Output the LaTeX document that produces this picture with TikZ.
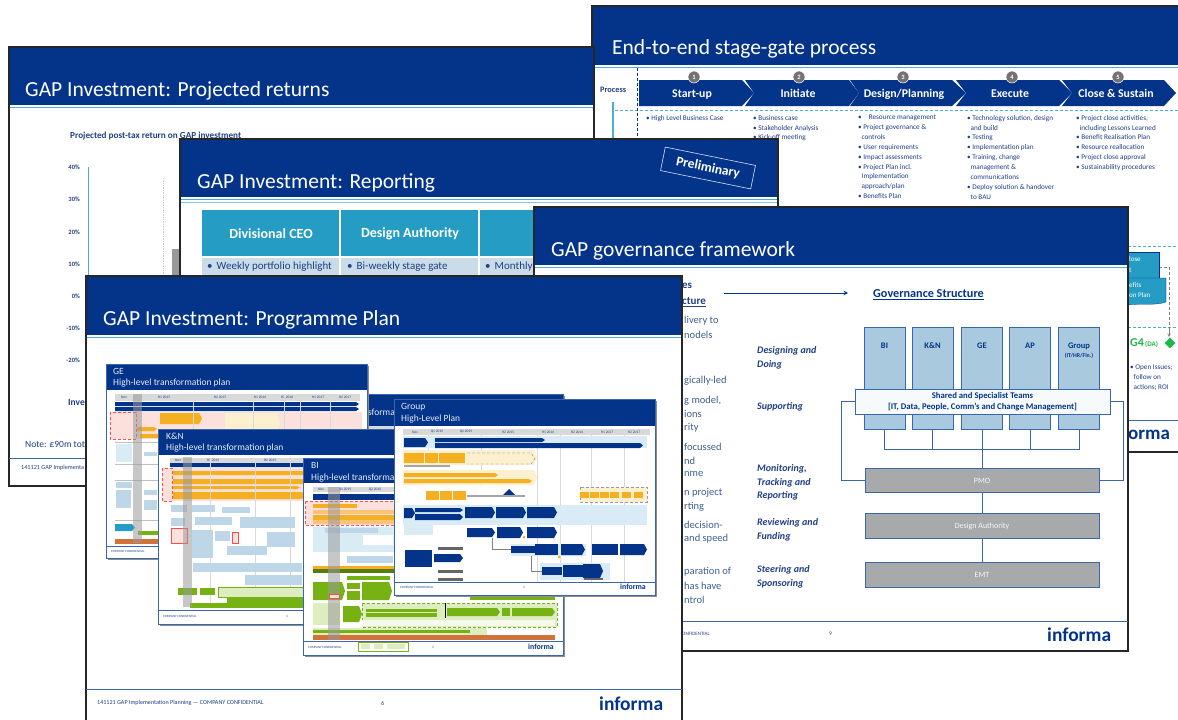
\documentclass[tikz,border=0pt]{standalone}
\usepackage{fontspec}
\setmainfont{Carlito}
\usetikzlibrary{calc,shapes.geometric}
\definecolor{navy}{HTML}{03348A}
\definecolor{sky}{HTML}{4AAFD2}
\definecolor{teal1}{HTML}{259CC4}
\definecolor{bodyb}{HTML}{1F3F86}
\definecolor{slate}{HTML}{3F5F92}
\definecolor{rowb}{HTML}{C9DCE8}
\definecolor{govb}{HTML}{A9C9DE}
\definecolor{govl}{HTML}{3A66AE}
\definecolor{gr}{HTML}{A8A9AB}
\definecolor{gold}{HTML}{F5B021}
\definecolor{pale}{HTML}{FDF0CF}
\definecolor{pink}{HTML}{FBE0DC}
\definecolor{lb}{HTML}{BDD7E8}
\definecolor{vlb}{HTML}{D9ECF6}
\definecolor{grn}{HTML}{76B214}
\definecolor{lgrn}{HTML}{DDEDBF}
\definecolor{rust}{HTML}{D2713A}
\definecolor{org}{HTML}{F9C37C}
\definecolor{gatec}{HTML}{1FB84A}
\newcounter{tn}
% text: options, x, y, font size, text
\newcommand{\lbl}[5][]{\stepcounter{tn}\node[inner sep=0pt,anchor=west,#1] (t\arabic{tn}) at (#2,#3) {\fontsize{#4}{#4}\selectfont #5};}
\newcommand{\rb}[5]{\fill[#5] (#1,#2) rectangle (#3,#4);}
\newcommand{\chev}[5]{\fill[#5] (#1,#2) -- ({#3-3},#2) -- (#3,{(#2+#4)/2}) -- ({#3-3},#4) -- (#1,#4) -- cycle;}
% big slide: x0 y0 x1 y1 headerbottom titlex titley title
\newcommand{\bigslide}[8]{%
  \fill[white] (#1,#2) rectangle (#3,#4);
  \fill[navy] (#1,#2) rectangle (#3,#5);
  \draw[sky,line width=1.2pt] (#1,{#5+2.6}) -- (#3,{#5+2.6});
  \lbl[text=white]{#6}{#7}{21.5}{#8}
  \draw[black!85,line width=2pt] (#1,#2) rectangle (#3,#4);
}
% mini slide frame: x0 y0 x1 y1 hb
\newcommand{\mini}[5]{%
  \fill[black!45] ({#1+1.5},{#2+2}) rectangle ({#3+1.5},{#4+2});
  \fill[white] (#1,#2) rectangle (#3,#4);
  \fill[navy] (#1,#2) rectangle (#3,#5);
  \draw[govl,line width=.7pt] (#1,#2) rectangle (#3,#4);
}
\newcommand{\minihead}[3]{\lbl[text=white!90!navy]{#1}{#2}{9.5}{#3}}
\tikzset{
  stagearrow/.style={fill=navy},
  stepnum/.style={circle,fill=black!55,draw=white,line width=.5pt,text=white,inner sep=0pt,minimum size=12pt,font=\fontsize{6.5}{7}\selectfont\bfseries},
  stagetext/.style={anchor=base,text=white,font=\bfseries},
  bullets/.style={anchor=north west,inner sep=0pt,align=left,text=bodyb,font=\fontsize{7.2}{9.85}\selectfont},
  govbox/.style={draw=govl,fill=govb,line width=1pt,minimum width=41pt,minimum height=102pt,inner sep=0pt},
  govbar/.style={draw=govl,fill=gr,line width=1pt,minimum width=234pt,minimum height=24.5pt,inner sep=0pt,text=white!92!gr,font=\fontsize{8}{9}\selectfont},
  govlink/.style={draw=govl,line width=1pt},
  headcell/.style={fill=teal1},
  role/.style={text=bodyb,font=\fontsize{10}{13.4}\selectfont\bfseries\itshape,align=left,anchor=north west,inner sep=0pt},
}
\begin{document}
\begin{tikzpicture}[x=1pt,y=-1pt]
\useasboundingbox (0,0) rectangle (1178,720);
\clip (0,0) rectangle (1178,720);
\fill[white] (0,0) rectangle (1178,720);

%%%%% Slide B: stage-gate
\bigslide{592}{6}{1182}{452}{65}{612}{49}{End-to-end stage-gate process}
\draw[sky,line width=.9pt,densely dashed] (615,110) -- (1178,110);
\draw[navy,line width=.7pt,densely dashed] (637,68) -- (637,140);
\draw[sky,line width=1.2pt] (613,102) -- (613,140);
\lbl[text=bodyb,font=\bfseries]{600}{90}{8.3}{Process}
\fill[stagearrow] (639,80) -- (742,80) -- (754,93) -- (742,106) -- (639,106) -- cycle;
\fill[stagearrow] (745,80) -- (849,80) -- (859,93) -- (849,106) -- (745,106) -- (754,93) -- cycle;
\fill[stagearrow] (850,80) -- (952,80) -- (966,93) -- (952,106) -- (850,106) -- (859,93) -- cycle;
\fill[stagearrow] (956,80) -- (1059,80) -- (1072,93) -- (1059,106) -- (956,106) -- (966,93) -- cycle;
\fill[stagearrow] (1062,80) -- (1164,80) -- (1176,93) -- (1164,106) -- (1062,106) -- (1072,93) -- cycle;
\node[stepnum] (n1) at (694,77) {1};
\node[stepnum] (n2) at (799,77) {2};
\node[stepnum] (n3) at (903,77) {3};
\node[stepnum] (n4) at (1012,77) {4};
\node[stepnum] (n5) at (1118,77) {5};
\lbl[stagetext]{692}{97}{11.8}{Start-up}
\lbl[stagetext]{798}{97}{11.8}{Initiate}
\lbl[stagetext]{904}{97}{11.8}{Design/Planning}
\lbl[stagetext]{1010}{97}{11.8}{Execute}
\lbl[stagetext]{1116}{97}{11.8}{Close \& Sustain}
\node[bullets] (c1) at (646,115) {• High Level  Business Case};
\node[bullets] (c2) at (753,115) {• Business case\\• Stakeholder  Analysis\\• Kick-off meeting};
\node[bullets] (c3) at (858,115) {•\hspace{7pt}Resource management\\• Project governance \&\\\hspace{3.5pt}controls\\• User requirements\\• Impact assessments\\• Project Plan incl.\\\hspace{3.5pt}Implementation\\\hspace{3.5pt}approach/plan\\• Benefits Plan};
\node[bullets] (c4) at (967,115) {• Technology solution, design\\\hspace{3.5pt}and build\\• Testing\\• Implementation  plan\\• Training,  change\\\hspace{3.5pt}management  \&\\\hspace{3.5pt}communications\\• Deploy solution \& handover\\\hspace{3.5pt}to BAU};
\node[bullets] (c5) at (1076,115) {• Project close activities,\\\hspace{3.5pt}including Lessons Learned\\• Benefit Realisation  Plan\\• Resource reallocation\\• Project close approval\\• Sustainability procedures};
% lower-right part of slide B
\draw[sky,line width=.8pt,densely dashed] (1128,246) -- (1178,246);
\draw[sky,line width=.8pt,densely dashed] (1128,327) -- (1178,327);
\draw[black!50,densely dashed,line width=.6pt] (1159,267) -- (1169,267) -- (1169,337);
\draw[black!50,line width=.6pt,-stealth] (1169,330) -- (1169,337);
\fill[teal1,draw=navy,line width=.3pt] (1128,252) rectangle (1159,278);
\fill[teal1,draw=navy,line width=.3pt] (1128,278) -- (1166,278) -- (1166,302) .. controls (1155,306) and (1140,303) .. (1128,305) -- cycle;
\lbl[text=white]{1129}{259}{7}{lose}
\lbl[text=white]{1129}{270}{7}{t}
\lbl[text=white]{1129}{285}{7}{efits}
\lbl[text=white]{1129}{295}{7}{on  Plan}
\lbl[text=gatec,font=\bfseries]{1130}{343}{12}{G4}
\lbl[text=gatec,font=\bfseries]{1145}{344}{7}{(DA)}
\node[diamond,fill=gatec,inner sep=0pt,minimum size=11pt] (g4) at (1170,343) {};
\node[bullets] (c6) at (1130,365) {• Open Issues;\\\hspace{3.5pt}follow on\\\hspace{3.5pt}actions; ROI};
\draw[govl,line width=.8pt] (1128,420) -- (1178,420);
\lbl[text=navy,font=\bfseries]{1128}{435}{19}{orma}

%%%%% Slide A: projected returns
\bigslide{9}{47}{594}{486}{105}{25}{91}{GAP Investment:  Projected returns}
\lbl[text=bodyb,font=\bfseries]{70}{136}{9.2}{Projected post-tax return on GAP investment}
\foreach \yy/\tx in {167/40\%,199/30\%,232/20\%,264/10\%,296/0\%,328/-10\%,360/-20\%}{
  \lbl[anchor=east,text=bodyb,font=\bfseries]{80}{\yy}{6.5}{\tx}
}
\draw[sky,line width=.8pt] (88,167) -- (88,385);
\draw[black!20,densely dotted,line width=.7pt] (163,178) -- (163,280);
\fill[black!40] (172,249) rectangle (180,280);
\lbl[text=bodyb,font=\bfseries]{68}{402}{9.5}{Inve}
\lbl[text=bodyb]{25}{444}{9.5}{Note: £90m tot}
\draw[govl,line width=.8pt] (9,458) -- (85,458);
\lbl[text=bodyb]{21}{468}{6.2}{141121  GAP Implementa}

%%%%% Slide C: reporting
\fill[white] (180,139) rectangle (778,290);
\fill[navy] (180,139) rectangle (778,197);
\draw[sky,line width=1.2pt] (180,199.6) -- (778,199.6);
\draw[sky!70,line width=.8pt] (180,202.5) -- (778,202.5);
\lbl[text=white]{197}{183}{21.5}{GAP Investment:  Reporting}
\draw[black!85,line width=2pt] (180,139) rectangle (778,290);
\rb{202}{210}{339}{256}{headcell}
\rb{341}{210}{478}{256}{headcell}
\rb{480}{210}{620}{256}{headcell}
\rb{202}{258}{339}{290}{rowb}
\rb{341}{258}{478}{290}{rowb}
\rb{480}{258}{620}{290}{rowb}
\lbl[anchor=center,text=white,font=\bfseries]{271}{234}{14}{Divisional CEO}
\lbl[anchor=center,text=white,font=\bfseries]{410}{234}{14}{Design Authority}
\lbl[text=bodyb]{207}{267}{11}{•\hspace{4pt}Weekly portfolio highlight}
\lbl[text=bodyb]{347}{267}{11}{•\hspace{4pt}Bi-weekly stage gate}
\lbl[text=bodyb]{485}{267}{11}{•\hspace{4pt}Monthly}
\node[draw=white!85!navy,line width=.6pt,rotate=-11.5,minimum width=92pt,minimum height=24pt,inner sep=0pt,text=white,font=\fontsize{13.5}{14}\selectfont\bfseries] (prelim) at (708,168) {Preliminary};

%%%%% Slide D: governance
\bigslide{534}{207}{1128}{651}{265}{551}{251}{GAP governance framework}
\lbl[text=bodyb,font=\bfseries]{682}{286}{11}{es}
\lbl[text=bodyb,font=\bfseries]{682}{302}{11}{\underline{cture}}
\foreach \yy/\tx in {321/livery to,335/nodels /,381/gically-led,401/{g model,},414/ions,428/rity,447/focussed,461/nd,474/nme,493/n project,507/rting,525/decision-,539/and speed,572/paration of,586/has have,600/ntrol}{
  \lbl[text=slate]{684}{\yy}{10.5}{\tx}
}
\coordinate (arrL) at (724,293);
\coordinate (arrR) at (848,293);
\draw[navy,line width=1pt,-stealth] (arrL) -- (arrR);
\lbl[text=navy,font=\bfseries]{873}{295}{12.2}{\underline{Governance Structure}}
\node[role] (r1) at (757,346.5) {Designing and\\Doing};
\node[role] (r2) at (757,402.5) {Supporting};
\node[role] (r3) at (757,464.5) {Monitoring,\\Tracking and\\Reporting};
\node[role] (r4) at (757,518.5) {Reviewing  and\\Funding};
\node[role] (r5) at (757,565.5) {Steering and\\Sponsoring};
\node[govbox] (bi) at (884.5,378) {};
\node[govbox] (kn) at (932.5,378) {};
\node[govbox] (ge) at (982,378) {};
\node[govbox] (ap) at (1030,378) {};
\node[govbox] (grp) at (1079,378) {};
\lbl[anchor=center,text=navy,font=\bfseries]{884.5}{346}{8.5}{BI}
\lbl[anchor=center,text=navy,font=\bfseries]{932.5}{346}{8.5}{K\&N}
\lbl[anchor=center,text=navy,font=\bfseries]{982}{346}{8.5}{GE}
\lbl[anchor=center,text=navy,font=\bfseries]{1030}{346}{8.5}{AP}
\lbl[anchor=center,text=navy,font=\bfseries]{1079}{346}{8.5}{Group}
\lbl[anchor=center,text=navy,font=\bfseries]{1079}{356}{5.8}{(IT/HR/Fin.)}
\node[govbar] (pmo) at (982,480.5) {PMO};
\node[govbar] (da) at (982,526) {Design Authority};
\node[govbar] (emt) at (982,575) {EMT};
\coordinate (bus) at (982,449);
\draw[govlink] (bi.south) -- (bi.south |- bus) -- (grp.south |- bus) -- (grp.south);
\draw[govlink] (kn.south) -- (kn.south |- bus);
\draw[govlink] (ap.south) -- (ap.south |- bus);
\draw[govlink] (ge.south) -- (pmo.north);
\draw[govlink] (pmo.south) -- (da.north);
\draw[govlink] (da.south) -- (emt.north);
\node[draw=govl,fill=white!90!govb,line width=1pt,minimum width=255pt,minimum height=25pt,inner sep=0pt,align=center,text=navy,font=\fontsize{8.7}{11.5}\selectfont\bfseries] (shared) at (982.5,401.5) {Shared and Specialist Teams\\{}[IT, Data, People, Comm’s and Change Management]};
\draw[govlink] (shared.west) -- ++(-13,0) |- (pmo.west);
\draw[govlink] (shared.east) -- ++(13,0) |- (pmo.east);
\draw[govl,line width=.8pt] (682,621) -- (1128,621);
\lbl[text=bodyb]{682}{634}{5}{ONFIDENTIAL}
\lbl[text=bodyb]{829}{634}{5.5}{9}
\lbl[text=navy,font=\bfseries]{1047}{635}{19.5}{informa}

%%%%% Slide E: programme plan
\bigslide{86}{276}{682}{725}{335}{103}{320}{GAP Investment:  Programme Plan}
\draw[govl,line width=.8pt] (86,689) -- (682,689);
\lbl[text=bodyb]{97}{703}{6.1}{141121  GAP Implementation Planning  — COMPANY CONFIDENTIAL}
\lbl[text=bodyb]{381}{703}{6}{6}
\lbl[text=navy,font=\bfseries]{599}{704}{19.5}{informa}

% hidden mini slide behind GE
\mini{300}{394}{563}{480}{426}
\lbl[text=white!90!navy,anchor=east]{395}{413}{9.5}{High-level transforma}
\rb{300}{426}{395}{429}{black!15}

% GE
\mini{106}{364}{367}{558}{390}
\minihead{113}{371}{GE}
\minihead{113}{383}{High-level transformation plan}
\rb{115}{394}{360}{401}{black!15}
\foreach \xx/\tx in {124/Nov/Dec,164/H1 2015,220/H2 2015,260/H1 2016,287/H2 2016,318/H1 2017,345/H2 2017}{\lbl[anchor=center,text=bodyb]{\xx}{397.5}{3.6}{\tx}}
\chev{115}{402}{359}{406}{navy}
\chev{115}{407}{359}{411}{navy}
\fill[pink] (110,412) rectangle (362,439);
\draw[red!70,densely dashed,line width=.4pt] (110,412) rectangle (136,439);
\chev{160}{413}{202}{424}{gold}
\chev{137}{427}{157}{431}{gold}
\chev{140}{434}{225}{438}{gold}
\chev{225}{413}{280}{435}{pale}
\foreach \xx in {193,253,284,300,330}{\draw[black!15,line width=.4pt] (\xx,394) -- (\xx,544);}
\foreach \yy in {442,464,480,520}{\draw[black!25,line width=.3pt] (115,\yy) -- (158,\yy);}
\rb{116}{444}{132}{462}{vlb}
\rb{116}{482}{132}{488}{lb}
\rb{116}{490}{131}{508}{lb}
\rb{144}{452}{157}{456}{lb}
\rb{144}{490}{157}{495}{lb}
\rb{144}{500}{157}{510}{lb}
\chev{115}{524}{135}{531}{teal1}
\rb{138}{531}{158}{535}{grn}
\rb{115}{539}{158}{544}{rust}
\fill[black!40,opacity=.55] (133,394) rectangle (142,543);
\draw[govl,line width=.5pt] (106,546) -- (158,546);
\lbl[text=bodyb]{111}{551}{3.2}{COMPANY CONFIDENTIAL}

% K&N
\mini{158}{429}{410}{624}{455}
\minihead{166}{436}{K\&N}
\minihead{166}{448}{High-level transformation plan}
\rb{170}{458}{320}{463}{black!15}
\foreach \xx/\tx in {178/Nov/Dec,213/H1 2015,270/H2 2015}{\lbl[anchor=center,text=bodyb]{\xx}{460.5}{3.6}{\tx}}
\chev{170}{463}{310}{467}{navy}
\fill[pink] (162,468) rectangle (320,501);
\draw[red!70,densely dashed,line width=.4pt] (162,468) rectangle (172,501);
\chev{173}{471}{305}{475}{gold}
\chev{173}{479}{305}{484}{gold}
\chev{173}{486}{300}{489}{gold}
\chev{173}{492}{305}{499}{gold}
\foreach \xx in {210,255,290}{\draw[black!15,line width=.4pt] (\xx,458) -- (\xx,608);}
\rb{171}{505}{187}{512}{lb}
\rb{192}{505}{215}{512}{lb}
\rb{222}{507}{250}{513}{lb}
\rb{171}{518}{185}{526}{lb}
\rb{195}{517}{232}{525}{lb}
\rb{240}{517}{295}{528}{lb}
\fill[pink,draw=red!70,line width=.5pt] (171,528) rectangle (187,543);
\rb{192}{530}{213}{558}{lb}
\rb{215}{531}{230}{541}{lb}
\fill[pink,draw=red!70,line width=.5pt] (232,532) rectangle (238,543);
\rb{227}{546}{267}{555}{lb}
\rb{267}{532}{295}{547}{lb}
\rb{193}{563}{302}{572}{lb}
\rb{245}{575}{302}{585}{lb}
\fill[lgrn,draw=grn,line width=.3pt] (218,587) rectangle (303,597);
\rb{178}{588}{197}{595}{grn}
\rb{200}{588}{215}{595}{grn}
\rb{227}{598}{303}{603}{grn}
\rb{190}{603}{303}{608}{grn}
\fill[black!40,opacity=.55] (183,457) rectangle (192,607);
\draw[govl,line width=.5pt] (158,610) -- (303,610);
\lbl[text=bodyb]{163}{616}{3.2}{COMPANY CONFIDENTIAL}
\lbl[text=bodyb]{286}{616}{3.5}{1}

% BI
\mini{303}{458}{563}{655}{483}
\minihead{311}{465}{BI}
\minihead{311}{478}{High-level transforma}
\rb{313}{487}{395}{492}{black!15}
\foreach \xx/\tx in {321/Nov/Dec 2014,345/Q1 2015,375/Q2 2015}{\lbl[anchor=center,text=bodyb]{\xx}{489.5}{3.6}{\tx}}
\rb{313}{494}{395}{500}{navy}
\fill[pink] (305,501) rectangle (395,525);
\draw[red!70,densely dashed,line width=.4pt] (305,501) rectangle (395,525);
\rb{313}{504}{357}{508}{gold}
\rb{313}{510}{395}{514}{org}
\rb{313}{515}{395}{520}{gold}
\rb{313}{520}{395}{524}{org}
\rb{313}{527}{395}{552}{vlb}
\rb{325}{528}{378}{533}{lb}
\rb{363}{535}{393}{545}{white}
\rb{313}{554}{345}{565}{white}
\rb{347}{556}{393}{563}{lb}
\rb{313}{566}{395}{569}{gold}
\rb{313}{569}{395}{573}{grn!70!black}
\rb{347}{576}{390}{580}{grn}
\chev{313}{582}{345}{600}{grn}
\rb{347}{583}{360}{589}{grn}
\rb{347}{591}{360}{600}{grn}
\chev{362}{582}{392}{600}{grn}
\rb{470}{595}{555}{600}{grn}
\fill[lgrn] (362,603) rectangle (557,627);
\draw[grn,densely dashed,line width=.3pt] (362,603) rectangle (557,627);
\chev{343}{606}{362}{622}{grn}
\rb{313}{603}{340}{625}{lgrn}
\rb{366}{609}{437}{612}{grn}
\rb{366}{613}{437}{617}{grn}
\chev{447}{608}{500}{616}{grn}
\rb{502}{608}{510}{616}{grn}
\chev{512}{608}{555}{616}{grn}
\rb{362}{620}{555}{626}{white!70!lgrn}
\rb{313}{628}{487}{635}{lgrn}
\rb{313}{630}{470}{633}{grn}
\rb{313}{635}{555}{640}{rust}
\draw[black,line width=.8pt] (445,603) -- (445,618);
\fill[black!40,opacity=.55] (328,487) rectangle (340,640);
\fill[pink,draw=red!70,line width=.4pt] (329,594) rectangle (339,598);
\draw[govl,line width=.5pt] (303,641) -- (563,641);
\lbl[text=bodyb]{308}{647}{3.2}{COMPANY CONFIDENTIAL}
\draw[grn,line width=.6pt] (358,642) rectangle (408,651);
\foreach \xx in {361,374,387,396}{\rb{\xx}{644}{\xx+9}{649}{lgrn}}
\lbl[text=bodyb]{432}{647}{3.5}{1}
\lbl[text=navy,font=\bfseries]{528}{647}{7.8}{informa}

% Group
\mini{394}{399}{655}{595}{426}
\minihead{401}{407}{Group}
\minihead{401}{419}{High-Level Plan}
\rb{403}{429}{650}{435}{black!15}
\foreach \xx/\tx in {415/Nov/Dec 2014,437/Q1 2015,466/Q2 2015,508/H2 2015,548/H1 2016,577/H2 2016,607/H1 2017,634/H2 2017}{\lbl[anchor=center,text=bodyb]{\xx}{432}{3.6}{\tx}}
\foreach \xx/\yy in {428/464,481/486,537/582,560/582,591/582,624/582}{\draw[black!15,line width=.4pt] (\xx,435) -- (\xx,\yy);}
\rb{403}{436}{647}{448}{vlb}
\chev{404}{438}{428}{447}{navy}
\chev{435}{438}{545}{442}{navy}
\chev{435}{443}{643}{448}{navy}
\chev{403}{450}{537}{465}{pale}
\rb{404}{453}{424}{463}{gold}
\rb{425}{453}{438}{463}{gold}
\rb{439}{453}{465}{463}{gold}
\draw[black!60,densely dashed,line width=.3pt] (467,453) -- (531,453) -- (535,458.5) -- (531,464) -- (467,464);
\rb{404}{465}{450}{467}{black!35}
\chev{403}{470}{537}{485}{pale}
\chev{404}{473}{498}{477}{gold}
\chev{404}{479}{532}{483}{gold}
\rb{426}{491}{439}{500}{gold}
\rb{440}{491}{452}{500}{gold}
\rb{453}{491}{466}{500}{gold}
\fill[navy] (509,489) -- (515,495) -- (503,495) -- cycle;
\rb{467}{495}{525}{497}{black!35}
\fill[pale] (580,487) rectangle (647,502);
\draw[black!40,densely dashed,line width=.3pt] (580,487) rectangle (647,502);
\foreach \xx in {580,590,600,610,622,634}{\rb{\xx}{492}{\xx+9}{498}{gold}}
\rb{403}{505}{647}{521}{vlb}
\chev{404}{508}{415}{518}{navy}
\chev{415}{508}{463}{512}{navy}
\chev{415}{514}{463}{520}{navy}
\chev{465}{507}{495}{518}{navy}
\chev{496}{507}{526}{518}{navy}
\chev{527}{507}{557}{518}{navy}
\rb{403}{521}{647}{525}{vlb}
\rb{404}{522}{433}{535}{vlb}
\chev{467}{528}{495}{537}{navy}
\chev{497}{527}{523}{538}{navy}
\chev{527}{527}{557}{538}{navy}
\fill[vlb] (511,544) rectangle (586,556);
\rb{511}{546}{535}{553}{navy}
\rb{535}{544}{558}{555}{navy}
\chev{561}{544}{585}{555}{navy}
\rb{592}{544}{618}{555}{navy}
\chev{620}{544}{647}{555}{navy}
\rb{405}{550}{432}{567}{navy}
\chev{434}{554}{463}{562}{navy}
\foreach \yy in {547,570,578}{\rb{438}{\yy}{463}{\yy+2.5}{black!60}}
\fill[vlb] (540,563) rectangle (610,580);
\rb{542}{567}{562}{575}{navy}
\rb{563}{565}{583}{577}{navy}
\chev{583}{564}{603}{578}{navy}
\rb{584}{578}{603}{580}{black!60}
\fill[gold] (524,537) circle (1.5);
\fill[gold] (559,557) circle (1.5);
\draw[black!50,line width=.3pt] (492,538) -- (492,549) -- (511,549);
\draw[black!50,line width=.3pt] (531,556) -- (531,571) -- (542,571);
\draw[govl,line width=.5pt] (394,582) -- (655,582);
\lbl[text=bodyb]{400}{587}{3.2}{COMPANY CONFIDENTIAL}
\lbl[text=bodyb]{523}{587}{3.5}{1}
\lbl[text=navy,font=\bfseries]{620}{587}{7.8}{informa}
\end{tikzpicture}
\end{document}
